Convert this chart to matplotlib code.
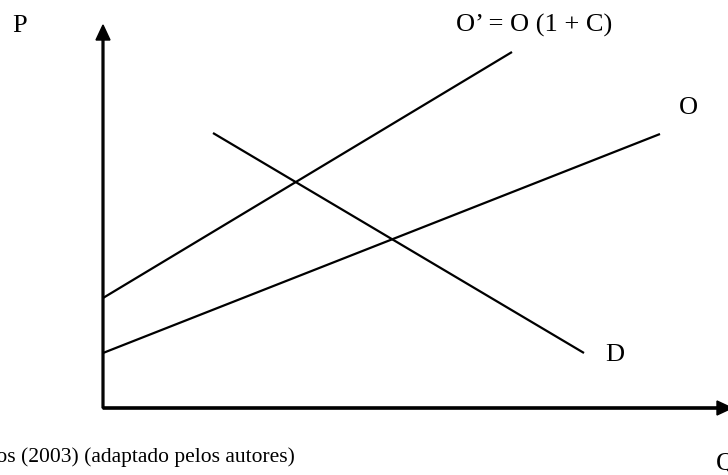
import matplotlib
matplotlib.use("Agg")
import matplotlib.pyplot as plt

# supply / demand diagram, units roughly = pixels from the origin
q_o_line = [0, 557]
p_o_line = [55, 274]
q_o2_line = [0, 409]
p_o2_line = [110, 356]
q_d_line = [110, 481]
p_d_line = [275, 55]

axis_q_max = 629
axis_p_max = 383

labels = ["P", "O\u2019 = O (1 + C)", "O", "D", "Q"]
label_pos = [(-91, 376), (353, 376), (576, 294), (502, 47), (613, -62)]
source_text = "Vasconcellos (2003) (adaptado pelos autores)"

fig = plt.figure(figsize=(7.28, 4.75), dpi=100)
ax = fig.add_axes([0, 0, 1, 1])
ax.set_xlim(-103, 625)
ax.set_ylim(-67, 408)
ax.axis("off")

# axes with arrow heads
ax.arrow(0, 0, 0, axis_p_max, width=1.8, head_width=14, head_length=15,
         length_includes_head=True, color="black")
ax.arrow(0, 0, axis_q_max, 0, width=2.2, head_width=14, head_length=15,
         length_includes_head=True, color="black")

for q, p in [(q_o2_line, p_o2_line), (q_o_line, p_o_line), (q_d_line, p_d_line)]:
    ax.plot(q, p, color="black", lw=1.6, solid_capstyle="butt")

for txt, (x, y) in zip(labels, label_pos):
    ax.text(x, y, txt, fontsize=19, family="Liberation Serif",
            ha="left", va="baseline")

# source line, cut at the left edge like the original
ax.text(192, -54, source_text, fontsize=15.5, family="Liberation Serif",
        ha="right", va="baseline")

fig.savefig("out.png", dpi=100)
